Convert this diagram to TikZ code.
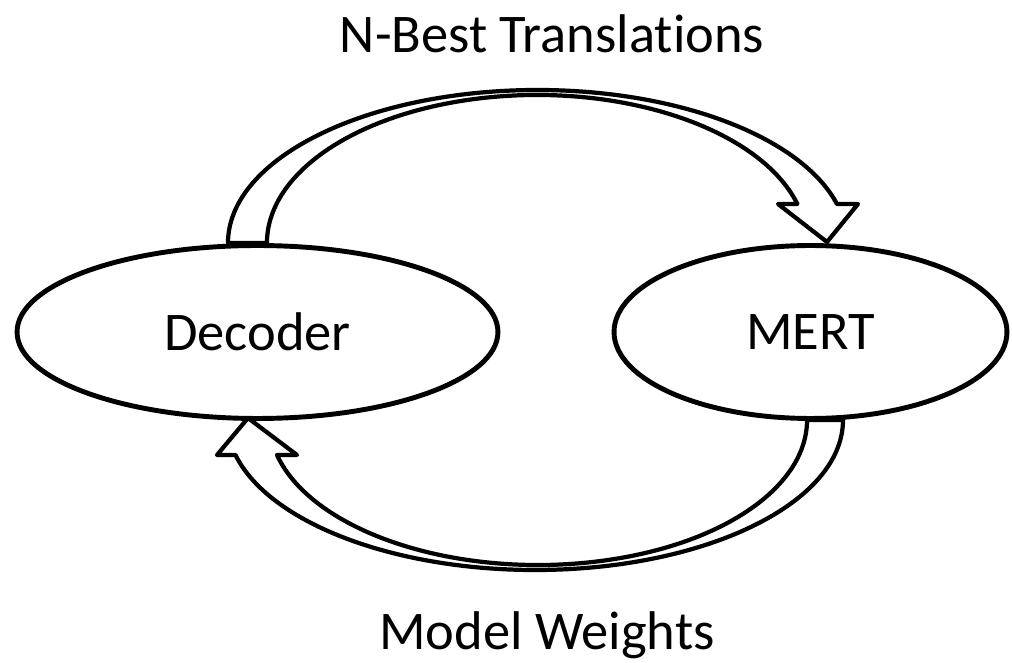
\documentclass[tikz,border=0pt]{standalone}
\usepackage{fontspec}
\setmainfont[Ligatures={NoCommon}]{Carlito}
\usetikzlibrary{shapes.geometric, positioning}

\begin{document}
\begin{tikzpicture}[x=0.02cm, y=0.02cm,
		Loop/.style={draw=black, fill=white, line width=2.4pt, line join=round},
		Box/.style={ellipse, draw=black, fill=white, line width=2.8pt,
			inner sep=0pt, minimum height=3.46cm,
			font=\fontsize{31}{37}\selectfont},
		Label/.style={anchor=base, font=\fontsize{31}{37}\selectfont}
	]
	\useasboundingbox (0,0) rectangle (1012,663);
	% block arrows first, ellipses go on top
	\draw[Loop] (228,420) arc[start angle=180, end angle=14.77, x radius=309.6, y radius=153]
		-- (858,459) -- (827,421) -- (778,459) -- (797.4,459)
		arc[start angle=15.28, end angle=180, x radius=270, y radius=148] -- cycle;
	\draw[Loop] (843,243) arc[start angle=0, end angle=-166.51, x radius=308, y radius=150]
		-- (217,208) -- (248,245) -- (297,208) -- (277,208)
		arc[start angle=-166.03, end angle=0, x radius=269, y radius=145] -- cycle;
	\node[Box, minimum width=9.62cm] (decoder) at (257.5,331) {Decoder};
	\node[Box, minimum width=7.86cm] (mert) at (810.5,331) {MERT};
	\node[Label] (nbest) at (552,610) {N-Best Translations};
	\node[Label] (weights) at (547,13) {Model Weights};
\end{tikzpicture}
\end{document}
